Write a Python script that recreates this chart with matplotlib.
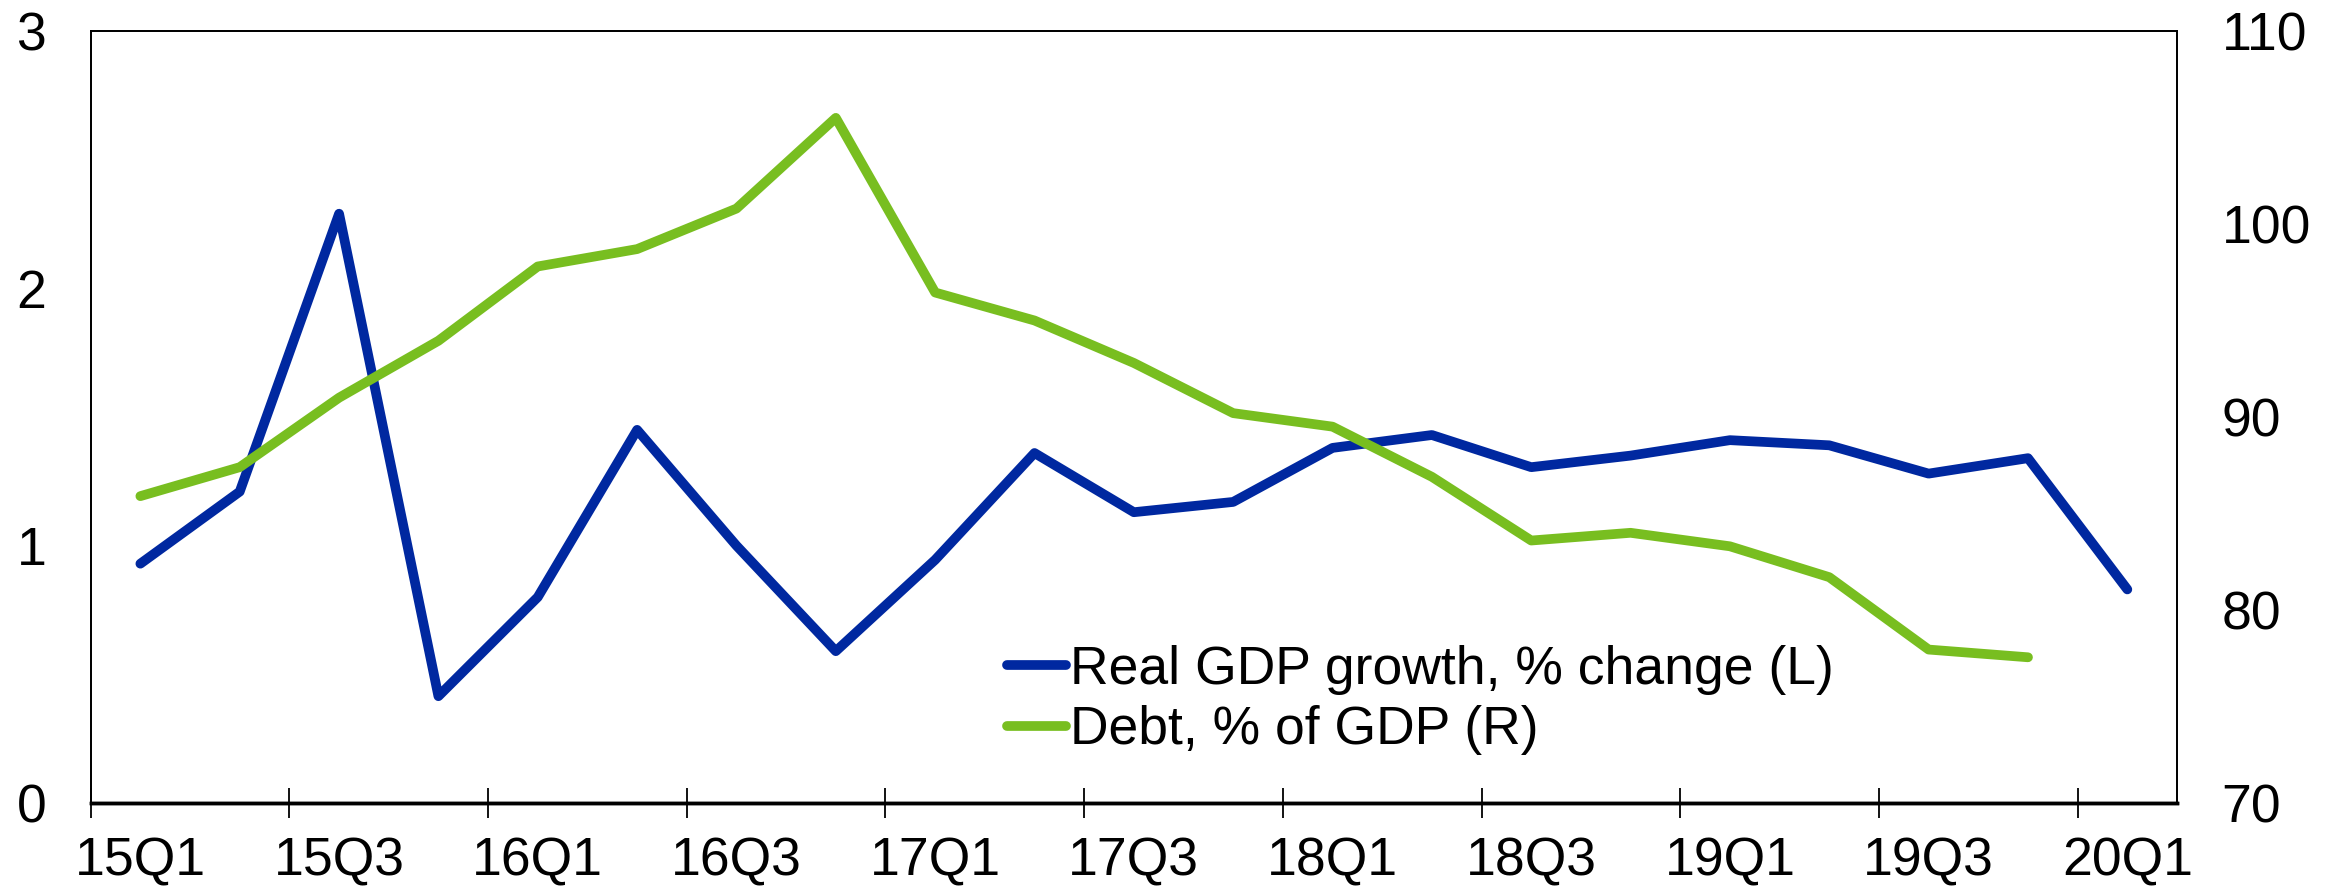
import matplotlib

matplotlib.use("Agg")

import matplotlib.pyplot as plt
import numpy as np

plt.rcParams["font.family"] = ["Liberation Sans", "DejaVu Sans"]

BLUE = "#0028A0"
GREEN = "#78BE20"

quarters = [
    "15Q1", "15Q2", "15Q3", "15Q4", "16Q1", "16Q2", "16Q3", "16Q4",
    "17Q1", "17Q2", "17Q3", "17Q4", "18Q1", "18Q2", "18Q3", "18Q4",
    "19Q1", "19Q2", "19Q3", "19Q4", "20Q1",
]
gdp_growth = [
    0.93, 1.21, 2.29, 0.415, 0.80, 1.45, 1.00, 0.59,
    0.945, 1.36, 1.13, 1.17, 1.38, 1.43, 1.305, 1.35,
    1.41, 1.39, 1.28, 1.34, 0.83,
]
debt_gdp = [
    85.9, 87.4, 91.0, 93.95, 97.8, 98.7, 100.8, 105.5,
    96.45, 95.0, 92.8, 90.2, 89.5, 86.9, 83.6, 84.0,
    83.3, 81.7, 77.95, 77.55,
]

FS = 38.5
W, H = 2341, 891

fig = plt.figure(figsize=(W / 100, H / 100), dpi=100)
ax = fig.add_axes([90.7 / W, 88 / H, 2086.3 / W, 772 / H])
ax2 = ax.twinx()

x = np.arange(len(quarters)) + 0.5
ax.plot(x, gdp_growth, color=BLUE, lw=7, solid_joinstyle="round",
        solid_capstyle="round", label="Real GDP growth, % change (L)")
ax2.plot(x[:len(debt_gdp)], debt_gdp, color=GREEN, lw=7,
         solid_joinstyle="round", solid_capstyle="round",
         label="Debt, % of GDP (R)")

ax.set_xlim(0, len(quarters))
ax.set_ylim(0, 3)
ax2.set_ylim(70, 110)
ax.set_yticks([0, 1, 2, 3])
ax2.set_yticks([70, 80, 90, 100, 110])

# tick marks on category boundaries, labels centred on the quarter
ax.set_xticks(np.arange(0, 21, 2))
ax.set_xticklabels([])
ax.set_xticks(x[::2], minor=True)
ax.set_xticklabels(quarters[::2], minor=True)
ax.tick_params(axis="x", which="major", direction="inout", length=22,
               width=1.3, color="black")
ax.tick_params(axis="x", which="minor", length=0, pad=24, labelsize=FS)
ax.tick_params(axis="y", length=0, pad=32, labelsize=FS)
ax2.tick_params(axis="y", length=0, pad=32, labelsize=FS)

for a in (ax, ax2):
    for s in a.spines.values():
        s.set_linewidth(1.3)
    a.spines["bottom"].set_linewidth(2.5)

h1, l1 = ax.get_legend_handles_labels()
h2, l2 = ax2.get_legend_handles_labels()
ax2.legend(h1 + h2, l1 + l2, loc="center left",
           bbox_to_anchor=(0.439, 0.1334), frameon=False,
           fontsize=FS, handlelength=1.12, handletextpad=0.06,
           borderpad=0, borderaxespad=0, labelspacing=0.2)

fig.savefig("out.png", dpi=100)
